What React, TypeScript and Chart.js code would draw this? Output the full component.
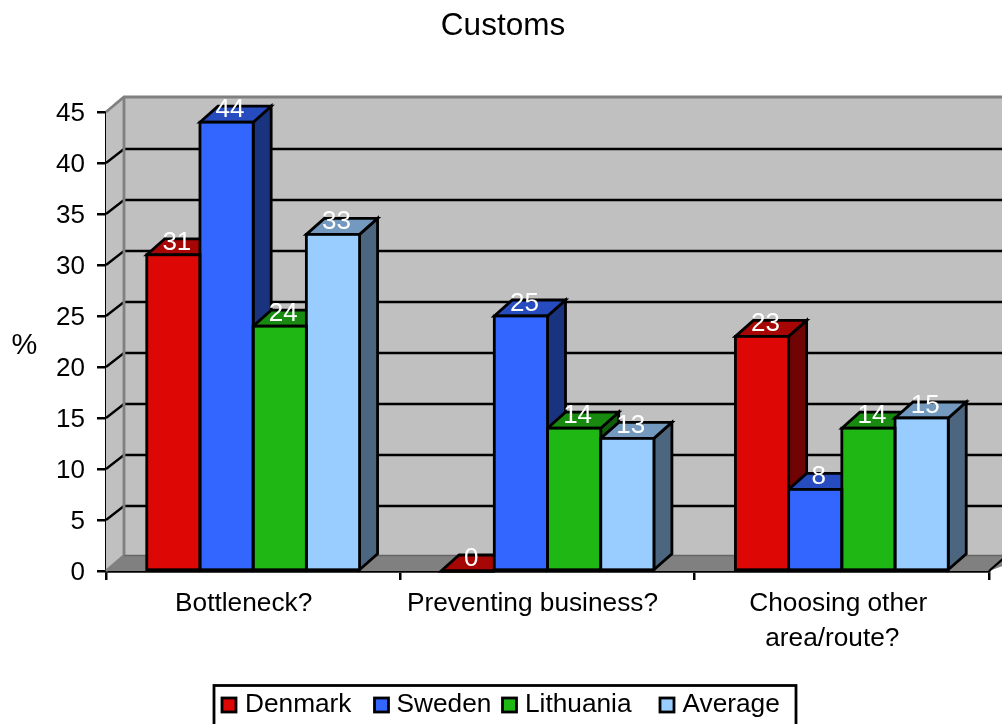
import React, { useEffect, useRef } from "react";
import { Chart, registerables } from "chart.js";

Chart.register(...registerables);

const categories = ["Bottleneck?", "Preventing business?", ["Choosing other", "area/route?"]];
const denmark = [31, 0, 23];
const sweden = [44, 25, 8];
const lithuania = [24, 14, 14];
const average = [33, 13, 15];
const seriesNames = ["Denmark", "Sweden", "Lithuania", "Average"];
const seriesValues = [denmark, sweden, lithuania, average];
const frontColors = ["#DD0806", "#3366FF", "#1FB714", "#99CCFF"];
const topColors = ["#A60604", "#264CBF", "#178A0F", "#7399BF"];
const sideColors = ["#6F0403", "#19337F", "#105C0A", "#4D667F"];
const legendSwatchX = [222, 374.5, 502.5, 660];
const legendTextX = [245, 396.5, 525, 682.5];
const labelShift = [[-9.5], [-15], [-3.5, -9.5]];

const FONT = '"Liberation Sans", Arial, sans-serif';
const DX = 18;
const DY = 16;
const GRID_DY = 14;
const FLOOR_DY = 15.5;
const LW = 2.8;

function poly(ctx: CanvasRenderingContext2D, pts: number[][], fill: string | null, stroke: string | null, lw = LW) {
  ctx.beginPath();
  pts.forEach((p, i) => (i ? ctx.lineTo(p[0], p[1]) : ctx.moveTo(p[0], p[1])));
  ctx.closePath();
  if (fill) {
    ctx.fillStyle = fill;
    ctx.fill();
  }
  if (stroke) {
    ctx.strokeStyle = stroke;
    ctx.lineWidth = lw;
    ctx.lineJoin = "miter";
    ctx.stroke();
  }
}

const box3d = {
  id: "box3d",
  beforeDatasetsDraw(chart: any) {
    const { ctx, chartArea: a, scales } = chart;
    const y = scales.y;
    ctx.save();
    const W = chart.width + 30;
    const topY = a.top - DY + 1;
    const floorY = a.bottom - FLOOR_DY;
    // back wall
    poly(ctx, [[a.left + DX, topY], [W, topY], [W, floorY], [a.left + DX, floorY]], "#C0C0C0", null);
    // side wall
    poly(ctx, [[a.left, a.top], [a.left + DX, topY], [a.left + DX, floorY], [a.left, a.bottom]], "#C0C0C0", null);
    // floor
    poly(ctx, [[a.left, a.bottom], [a.left + DX, floorY], [W, floorY], [a.right, a.bottom]], "#808080", null);
    // grid lines on the walls
    ctx.strokeStyle = "#000";
    ctx.lineWidth = 2.3;
    y.ticks.forEach((t: any) => {
      if (t.value === 0 || t.value === y.max) return;
      const py = y.getPixelForValue(t.value);
      ctx.beginPath();
      ctx.moveTo(a.left, py);
      ctx.lineTo(a.left + DX, py - GRID_DY);
      ctx.lineTo(W, py - GRID_DY);
      ctx.stroke();
    });
    // wall edges
    ctx.strokeStyle = "#808080";
    ctx.lineWidth = LW;
    ctx.beginPath();
    ctx.moveTo(a.left, a.top);
    ctx.lineTo(a.left + DX, topY);
    ctx.lineTo(W, topY);
    ctx.moveTo(a.left + DX, topY);
    ctx.lineTo(a.left + DX, floorY);
    ctx.moveTo(a.left, a.bottom);
    ctx.lineTo(a.left + DX, floorY);
    ctx.stroke();
    ctx.strokeStyle = "#666666";
    ctx.lineWidth = 1.5;
    ctx.beginPath();
    ctx.moveTo(a.left + DX, floorY);
    ctx.lineTo(W, floorY);
    ctx.stroke();
    // floor right edge
    ctx.strokeStyle = "#000";
    ctx.lineWidth = 2.3;
    ctx.beginPath();
    ctx.moveTo(a.right, a.bottom);
    ctx.lineTo(a.right + DX, floorY);
    ctx.stroke();
    // bar depth faces
    chart.data.datasets.forEach((_: any, di: number) => {
      chart.getDatasetMeta(di).data.forEach((bar: any) => {
        const l = bar.x - bar.width / 2;
        const r = bar.x + bar.width / 2;
        const t = bar.y;
        const b = bar.base;
        if (b - t > 0.5) {
          poly(ctx, [[r, t], [r + DX, t - DY], [r + DX, b - DY], [r, b]], sideColors[di], "#000");
        }
        poly(ctx, [[l, t], [l + DX, t - DY], [r + DX, t - DY], [r, t]], topColors[di], "#000");
      });
    });
    ctx.restore();
  },
  afterDatasetsDraw(chart: any) {
    const { ctx } = chart;
    ctx.save();
    ctx.strokeStyle = "#000";
    ctx.lineWidth = LW;
    chart.data.datasets.forEach((_: any, di: number) => {
      chart.getDatasetMeta(di).data.forEach((bar: any) => {
        ctx.strokeRect(bar.x - bar.width / 2, bar.y, bar.width, bar.base - bar.y);
      });
    });
    ctx.restore();
  },
  afterDraw(chart: any) {
    const { ctx, chartArea: a, scales } = chart;
    ctx.save();
    ctx.textBaseline = "alphabetic";
    // value labels
    ctx.fillStyle = "#fff";
    ctx.font = `26px ${FONT}`;
    ctx.textAlign = "center";
    chart.data.datasets.forEach((ds: any, di: number) => {
      chart.getDatasetMeta(di).data.forEach((bar: any, i: number) => {
        ctx.fillText(String(ds.data[i]), bar.x + 3.5, bar.y - 5);
      });
    });
    // category labels
    ctx.fillStyle = "#000";
    ctx.font = `26.25px ${FONT}`;
    categories.forEach((cat, i) => {
      const lines = Array.isArray(cat) ? cat : [cat];
      lines.forEach((line, j) => {
        ctx.fillText(line, scales.x.getPixelForValue(i) + labelShift[i][j], a.bottom + 39.5 + j * 35);
      });
    });
    // axis unit
    ctx.font = `29px ${FONT}`;
    ctx.fillText("%", 24.5, 353.5);
    // legend
    ctx.font = `26.25px ${FONT}`;
    ctx.strokeStyle = "#000";
    ctx.lineWidth = LW;
    ctx.fillStyle = "#fff";
    ctx.fillRect(214, 685.5, 582, 42);
    ctx.strokeRect(214, 685.5, 582, 42);
    ctx.textAlign = "left";
    seriesNames.forEach((name, i) => {
      ctx.fillStyle = frontColors[i];
      ctx.fillRect(legendSwatchX[i], 698, 14, 14);
      ctx.strokeRect(legendSwatchX[i], 698, 14, 14);
      ctx.fillStyle = "#000";
      ctx.fillText(name, legendTextX[i], 712);
    });
    ctx.restore();
  },
};

export default function App() {
  const ref = useRef<HTMLCanvasElement>(null);
  useEffect(() => {
    const chart = new Chart(ref.current as HTMLCanvasElement, {
      type: "bar",
      data: {
        labels: categories as any,
        datasets: seriesNames.map((name, i) => ({
          label: name,
          data: seriesValues[i],
          backgroundColor: frontColors[i],
          borderWidth: 0,
          categoryPercentage: 0.723,
          barPercentage: 1,
        })),
      },
      options: {
        responsive: false,
        animation: false,
        layout: { padding: { left: 17, right: 13, top: 0, bottom: 53 } },
        plugins: {
          legend: { display: false },
          tooltip: { enabled: false },
          title: {
            display: true,
            text: "Customs",
            color: "#000",
            font: { family: FONT, size: 31.5, weight: "normal", lineHeight: 1.2 },
            padding: { top: 7, bottom: 67.2 },
          },
        },
        scales: {
          x: {
            afterFit: (s: any) => {
              s.height = 100;
            },
            grid: { drawOnChartArea: false, color: "#000", lineWidth: 2.5, tickLength: 9 },
            border: { color: "#000", width: LW },
            ticks: { display: false },
          },
          y: {
            min: 0,
            max: 45,
            afterFit: (s: any) => {
              s.width = 89;
            },
            grid: { drawOnChartArea: false, color: "#000", lineWidth: 2.5, tickLength: 9 },
            border: { color: "#000", width: LW },
            ticks: {
              stepSize: 5,
              color: "#000",
              font: { family: FONT, size: 26 },
              padding: 12,
              labelOffset: 1.5,
            },
          },
        },
      } as any,
      plugins: [box3d],
    });
    return () => chart.destroy();
  }, []);
  return (
    <div style={{ position: "absolute", left: 0, top: 0, width: 1002, height: 724, overflow: "hidden", background: "#fff" }}>
      <canvas ref={ref} width={1002} height={724} style={{ display: "block" }} />
    </div>
  );
}
